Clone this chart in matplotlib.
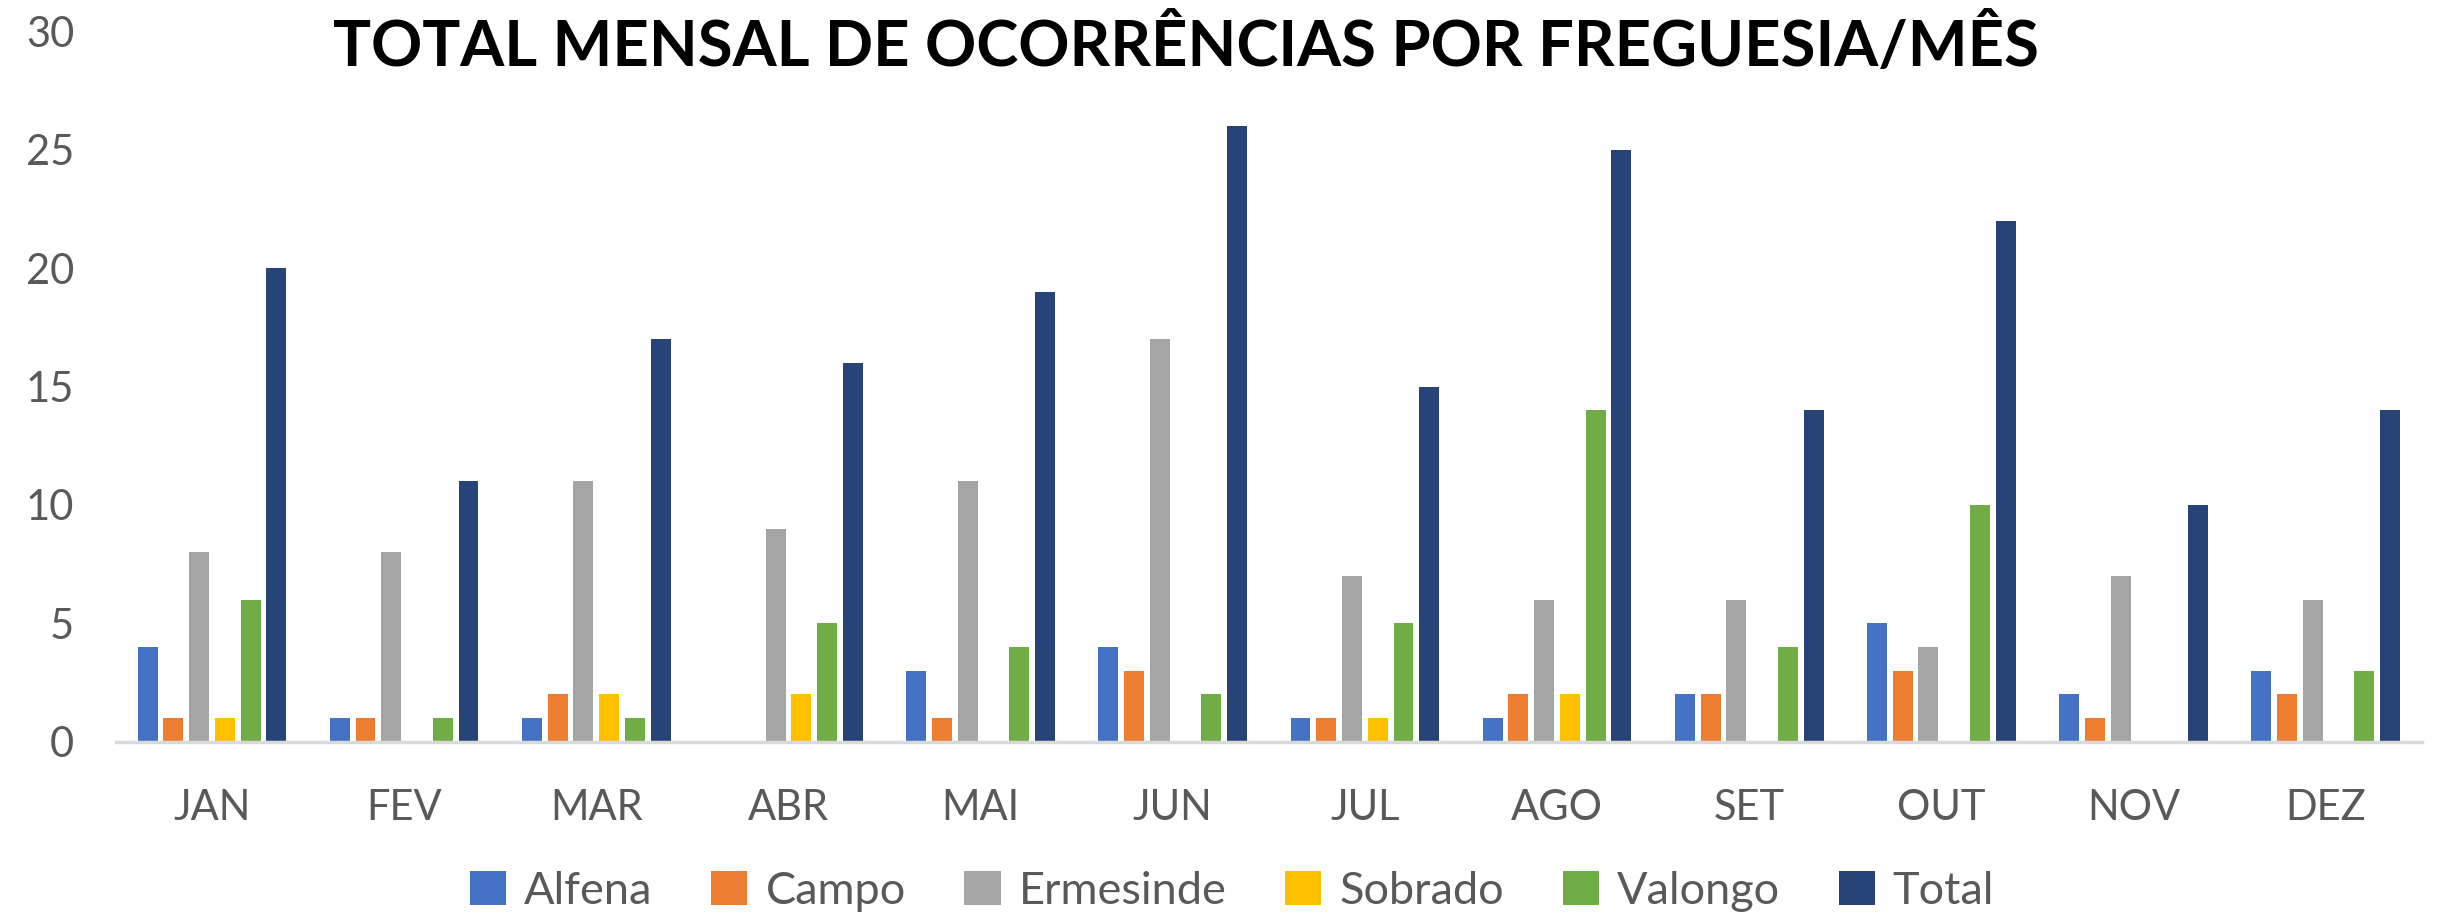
import matplotlib.pyplot as plt
import numpy as np

months = ["JAN", "FEV", "MAR", "ABR", "MAI", "JUN", "JUL", "AGO", "SET", "OUT", "NOV", "DEZ"]
alfena = [4, 1, 1, 0, 3, 4, 1, 1, 2, 5, 2, 3]
campo = [1, 1, 2, 0, 1, 3, 1, 2, 2, 3, 1, 2]
ermesinde = [8, 8, 11, 9, 11, 17, 7, 6, 6, 4, 7, 6]
sobrado = [1, 0, 2, 2, 0, 0, 1, 2, 0, 0, 0, 0]
valongo = [6, 1, 1, 5, 4, 2, 5, 14, 4, 10, 0, 3]
total = [20, 11, 17, 16, 19, 26, 15, 25, 14, 22, 10, 14]

series = [
    ("Alfena", alfena, "#4472C4"),
    ("Campo", campo, "#ED7D31"),
    ("Ermesinde", ermesinde, "#A5A5A5"),
    ("Sobrado", sobrado, "#FFC000"),
    ("Valongo", valongo, "#70AD47"),
    ("Total", total, "#264478"),
]

plt.rcParams["font.family"] = ["Lato", "DejaVu Sans"]

fig = plt.figure(figsize=(24.4, 9.17), dpi=100)
ax = fig.add_axes([0.0475, 0.191, 0.945, 0.775])

x = np.arange(len(months))
pitch = 0.134
width = 0.104
for i, (name, vals, color) in enumerate(series):
    ax.bar(x + (i - 2.5) * pitch, vals, width, color=color, label=name, zorder=2)

ax.set_xlim(-0.5, len(months) - 0.5)
ax.set_ylim(0, 30)
ax.set_yticks(range(0, 31, 5))
ax.set_xticks(x)
ax.set_xticklabels(months)
ax.tick_params(axis="both", length=0, labelsize=30, colors="#595959")
ax.tick_params(axis="y", pad=30)
ax.tick_params(axis="x", pad=34)
for side in ["top", "right", "left"]:
    ax.spines[side].set_visible(False)
ax.spines["bottom"].set_color("#D9D9D9")
ax.spines["bottom"].set_linewidth(2.5)

fig.text(0.486, 0.949, "TOTAL MENSAL DE OCORRÊNCIAS POR FREGUESIA/MÊS",
         ha="center", va="center", fontsize=45.6, fontweight="bold", color="black")

fig.legend(loc="center", bbox_to_anchor=(0.505, 0.028), ncol=6, frameon=False,
           fontsize=32.5, handlelength=0.8, handleheight=0.8, handletextpad=0.4,
           columnspacing=1.3, labelcolor="#595959")

fig.savefig("out.png", dpi=100)
